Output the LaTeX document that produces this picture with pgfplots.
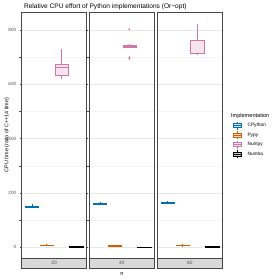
\documentclass[border=0pt]{standalone}
\usepackage{pgfplots}
\pgfplotsset{compat=1.18}
\usepgfplotslibrary{statistics}
\usepackage{fontspec}
\setmainfont{Liberation Sans}
\definecolor{cpy}{HTML}{0072B2}
\definecolor{ppy}{HTML}{D55E00}
\definecolor{npy}{HTML}{CC79A7}
\definecolor{nba}{HTML}{000000}
\definecolor{txtgray}{HTML}{4D4D4D}
\pgfplotsset{
  panel/.style={
    scale only axis, width=64.6pt, height=245.6pt, anchor=south west,
    xmin=0, xmax=64.6, ymin=-40.5, ymax=864, clip=false,
    xtick=\empty, ytick={0,200,400,600,800}, minor ytick={100,300,500,700},
    grid=both,
    major grid style={draw=gray!18, line width=0.4pt},
    minor grid style={draw=gray!9, line width=0.3pt},
    axis line style={draw=gray!55!black, line width=0.7pt},
    tick align=outside, major tick length=2pt,
    ytick style={draw=gray!60!black, line width=0.4pt},
    yticklabel style={font=\fontsize{4.6}{5}\selectfont, text=txtgray},
    /pgf/number format/assume math mode=true,
    boxplot/draw direction=y,
    boxplot/whisker extend=0,
    boxplot/every median/.style={line width=0.9pt},
    boxplot/every box/.style={line width=0.4pt},
    boxplot/every whisker/.style={line width=0.5pt},
  },
  inner/.style={panel, yticklabels={}, ytick style={draw=none}},
  bp/.style={solid, draw=#1, fill=#1!20, mark=*, mark size=0.7pt, mark options={draw=#1, fill=#1}},
}
\newcommand{\strip}[1]{%
  \draw[fill=gray!30, draw=gray!55!black, line width=0.6pt] (rel axis cs:0,0) rectangle ([yshift=-10pt]rel axis cs:1,0);
  \node[font=\fontsize{4.8}{5}\selectfont, text=txtgray] at ([yshift=-5pt]rel axis cs:0.5,0) {#1};
}
\begin{document}
\begin{tikzpicture}
\useasboundingbox (0,0) rectangle (280pt,280pt);
% Panel n = 20
\begin{axis}[panel, at={(21.7pt,21.7pt)}]
\addplot[bp=cpy, boxplot prepared={lower whisker=145, lower quartile=148, median=150, upper quartile=152, upper whisker=158, draw position=10.2, box extend=13.3}] coordinates {};
\addplot[bp=ppy, boxplot prepared={lower whisker=5, lower quartile=7, median=8, upper quartile=9, upper whisker=12, draw position=25, box extend=13.3}] coordinates {};
\addplot[bp=npy, boxplot prepared={lower whisker=619, lower quartile=635, median=664, upper quartile=674, upper whisker=730, draw position=39.8, box extend=13.3}] coordinates {};
\addplot[bp=nba, boxplot prepared={lower whisker=0.5, lower quartile=1.5, median=2, upper quartile=2.5, upper whisker=5, draw position=54.6, box extend=13.3}] coordinates {};
\strip{20}
\end{axis}
% Panel n = 40
\begin{axis}[inner, at={(89.6pt,21.7pt)}]
\addplot[bp=cpy, boxplot prepared={lower whisker=157, lower quartile=159, median=161, upper quartile=163, upper whisker=167, draw position=10.2, box extend=13.3}] coordinates {};
\addplot[bp=ppy, boxplot prepared={lower whisker=4, lower quartile=5, median=5.5, upper quartile=6, upper whisker=7, draw position=25, box extend=13.3}] coordinates {};
\addplot[bp=npy, boxplot prepared={lower whisker=735, lower quartile=738, median=741, upper quartile=744, upper whisker=750, draw position=39.8, box extend=13.3}] table[row sep=\\, y index=0] {y\\ 803\\ 700\\ 694\\};
\addplot[bp=nba, boxplot prepared={lower whisker=0.5, lower quartile=1, median=1.2, upper quartile=1.5, upper whisker=2, draw position=54.6, box extend=13.3}] coordinates {};
\strip{40}
\end{axis}
% Panel n = 60
\begin{axis}[inner, at={(157.5pt,21.7pt)}]
\addplot[bp=cpy, boxplot prepared={lower whisker=159, lower quartile=162, median=164, upper quartile=166, upper whisker=170, draw position=10.2, box extend=13.3}] coordinates {};
\addplot[bp=ppy, boxplot prepared={lower whisker=4, lower quartile=6, median=7, upper quartile=8, upper whisker=11, draw position=25, box extend=13.3}] coordinates {};
\addplot[bp=npy, boxplot prepared={lower whisker=708, lower quartile=715, median=761, upper quartile=763, upper whisker=822, draw position=39.8, box extend=13.3}] coordinates {};
\addplot[bp=nba, boxplot prepared={lower whisker=0.5, lower quartile=1.5, median=2, upper quartile=3, upper whisker=5, draw position=54.6, box extend=13.3}] coordinates {};
\strip{60}
\end{axis}
% Titles
\node[anchor=west, font=\fontsize{6.6}{7}\selectfont] at (20.5pt,273pt) {Relative CPU effort of Python implementations (Or\textminus opt)};
\node[rotate=90, font=\fontsize{5.4}{6}\selectfont] at (7pt,145pt) {CPU time (ratio of C++14 time)};
\node[font=\fontsize{5.6}{6}\selectfont] at (122pt,6.5pt) {n};
% Legend
\node[anchor=west, font=\fontsize{5.6}{6}\selectfont] at (227.5pt,164pt) {Implementation};
\foreach \c/\t/\yy in {cpy/CPython/154.3, ppy/Pypy/145, npy/Numpy/135.3, nba/Numba/126}{
  \draw[\c, line width=0.5pt] (237.5pt,\yy pt-4pt) -- (237.5pt,\yy pt+4pt);
  \draw[\c, fill=\c!20, line width=0.4pt] (233.5pt,\yy pt-2pt) rectangle (241.5pt,\yy pt+2pt);
  \draw[\c, line width=0.9pt] (233.5pt,\yy pt) -- (241.5pt,\yy pt);
  \node[anchor=west, font=\fontsize{4.8}{5}\selectfont] at (244pt,\yy pt) {\t};
}
\end{tikzpicture}
\end{document}
